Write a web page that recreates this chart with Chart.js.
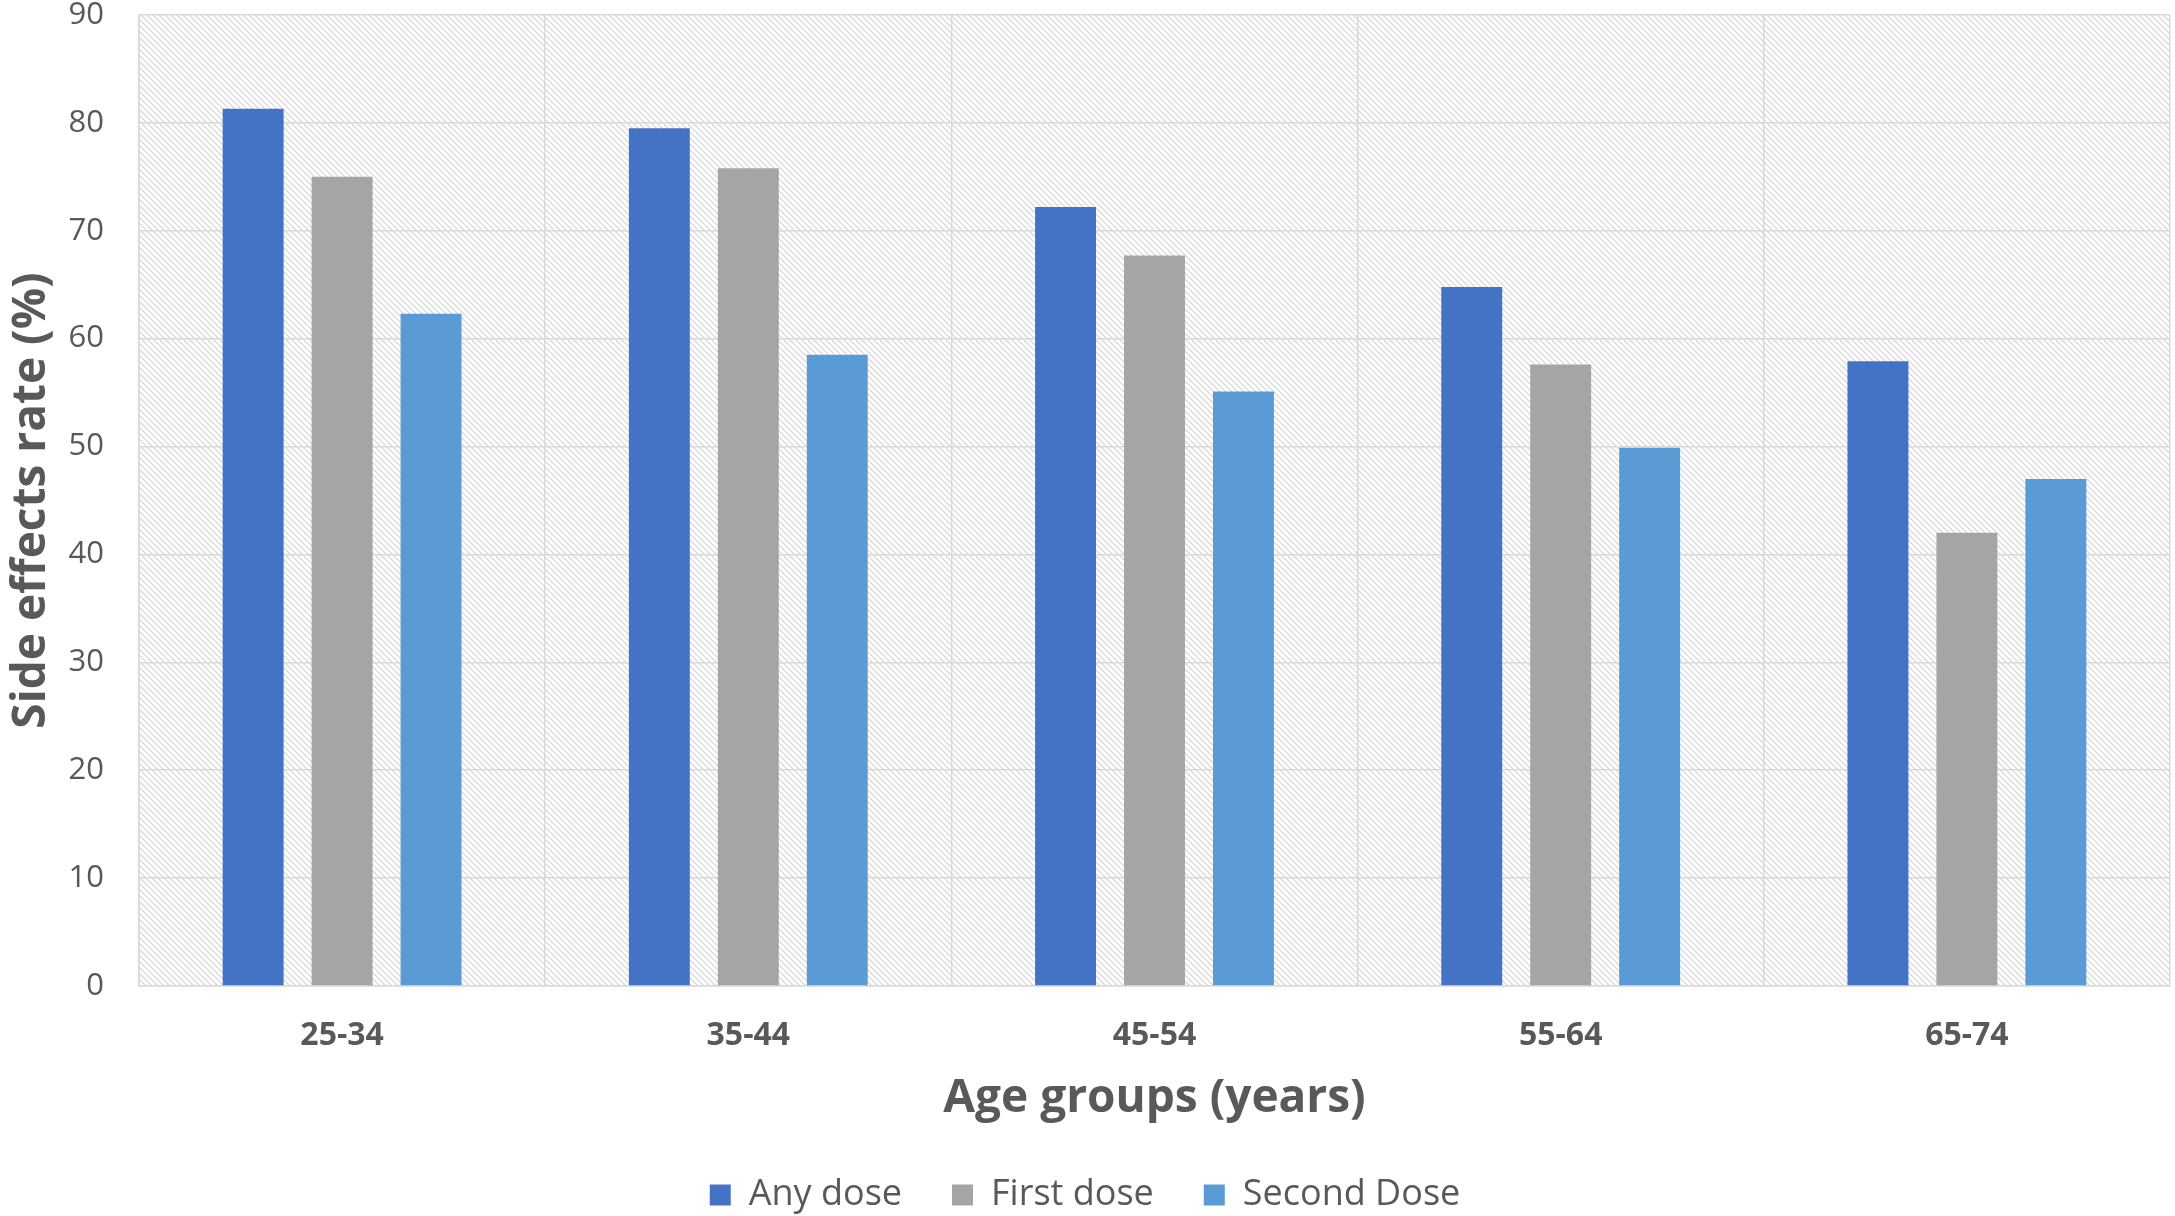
<!DOCTYPE html>
<html>
<head>
<meta charset="utf-8">
<script src="https://cdn.jsdelivr.net/npm/chart.js@4.4.1/dist/chart.umd.min.js"></script>
<style>
  html, body { margin: 0; padding: 0; background: #ffffff; }
  #wrap { width: 2175px; height: 1216px; }
</style>
</head>
<body>
<div id="wrap"><canvas id="c" width="2175" height="1216"></canvas></div>
<script>
const categories = ['25-34', '35-44', '45-54', '55-64', '65-74'];
const seriesNames = ['Any dose', 'First dose', 'Second Dose'];
const anyDose = [81.3, 79.5, 72.2, 64.8, 57.9];
const firstDose = [75.0, 75.8, 67.7, 57.6, 42.0];
const secondDose = [62.3, 58.5, 55.1, 49.9, 47.0];
const yTicks = [0, 10, 20, 30, 40, 50, 60, 70, 80, 90];

const colors = ['#4472C4', '#A5A5A5', '#5B9BD5'];
const textColor = '#595959';
const gridColor = '#d9d9d9';
const FONT = "'Open Sans', 'Noto Sans', sans-serif";

const hatch = {
  id: 'hatch',
  beforeDraw(chart) {
    const { ctx, chartArea: a, width, height } = chart;
    ctx.save();
    ctx.fillStyle = '#ffffff';
    ctx.fillRect(0, 0, width, height);
    const s = 6;
    const p = document.createElement('canvas');
    p.width = s; p.height = s;
    const c = p.getContext('2d');
    c.fillStyle = '#ffffff';
    c.fillRect(0, 0, s, s);
    c.strokeStyle = '#d4d4d4';
    c.lineWidth = 1.2;
    c.beginPath();
    c.moveTo(-1, -1); c.lineTo(s + 1, s + 1);
    c.moveTo(s - 1, -1); c.lineTo(s + 1, 1);
    c.moveTo(-1, s - 1); c.lineTo(1, s + 1);
    c.stroke();
    ctx.fillStyle = ctx.createPattern(p, 'repeat');
    ctx.fillRect(a.left, a.top, a.right - a.left, a.bottom - a.top);
    ctx.restore();
  }
};

const datasets = [anyDose, firstDose, secondDose].map((d, i) => ({
  label: seriesNames[i],
  data: d,
  backgroundColor: colors[i],
  borderWidth: 0,
  categoryPercentage: 0.657,
  barPercentage: 0.685
}));

new Chart(document.getElementById('c'), {
  type: 'bar',
  data: { labels: categories, datasets },
  plugins: [hatch],
  options: {
    responsive: false,
    animation: false,
    devicePixelRatio: 1,
    layout: { padding: { left: 0, right: 5, top: 0, bottom: -7 } },
    plugins: {
      legend: {
        position: 'bottom',
        labels: {
          boxWidth: 21,
          boxHeight: 21,
          padding: 50,
          color: textColor,
          font: { family: FONT, size: 36 }
        }
      },
      tooltip: { enabled: false }
    },
    scales: {
      x: {
        grid: { color: gridColor, lineWidth: 1.5, drawTicks: false },
        border: { color: gridColor, width: 1.5 },
        ticks: {
          color: textColor,
          padding: 31,
          font: { family: FONT, size: 32, weight: 'bold' }
        },
        title: {
          display: true,
          text: 'Age groups (years)',
          color: textColor,
          font: { family: FONT, size: 46, weight: 'bold' },
          padding: { top: 0, bottom: 1 }
        },
        afterFit(scale) { scale.height = 141; }
      },
      y: {
        min: 0,
        max: 90,
        afterBuildTicks(scale) { scale.ticks = yTicks.map(v => ({ value: v })); },
        grid: { color: gridColor, lineWidth: 1.5, drawTicks: false },
        border: { color: gridColor, width: 1.5 },
        ticks: {
          color: textColor,
          padding: 35,
          font: { family: FONT, size: 31, lineHeight: 1.0 }
        },
        title: {
          display: true,
          text: 'Side effects rate (%)',
          color: textColor,
          font: { family: FONT, size: 46, weight: 'bold' },
          padding: { top: 4, bottom: 0 }
        },
        afterFit(scale) {
          scale.width = 139;
          scale.paddingTop = 15;
          scale.paddingBottom = 0;
        }
      }
    }
  }
});
</script>
</body>
</html>
